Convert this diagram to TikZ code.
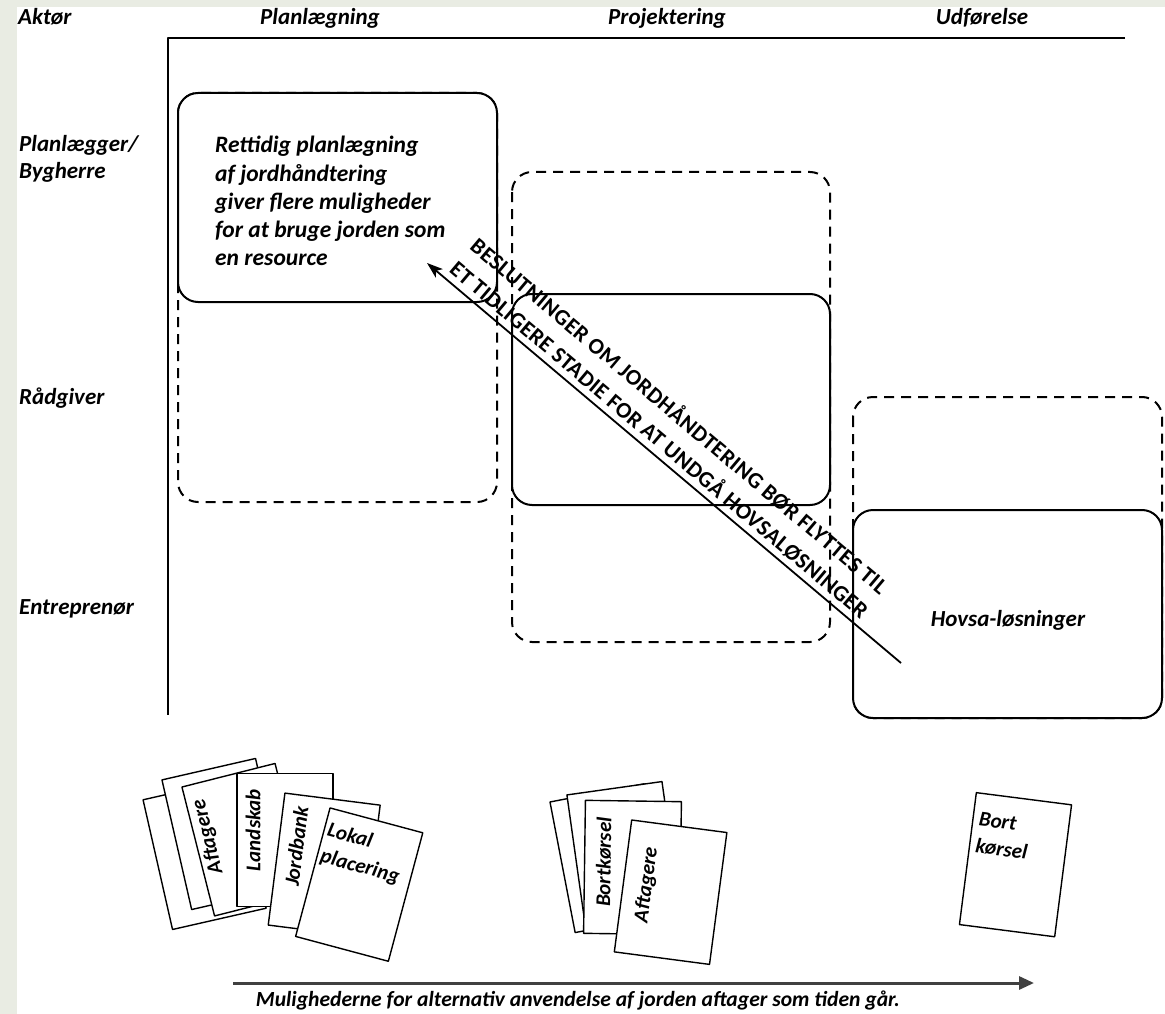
\documentclass[tikz,border=0pt]{standalone}
\usepackage{fontspec}
\setmainfont{Carlito}
\usetikzlibrary{arrows.meta}
\definecolor{bandgray}{RGB}{233,236,227}

\tikzset{
  lbl/.style={font=\bfseries\itshape\fontsize{23}{27}\selectfont, inner sep=0},
  cardtxt/.style={font=\bfseries\itshape\fontsize{21}{27}\selectfont, inner sep=0},
  card/.style={draw, fill=white, line width=1.4pt, minimum width=96pt, minimum height=133pt, inner sep=0},
}

\begin{document}
\begin{tikzpicture}[x=1pt, y=-1pt, line join=round,
  axis/.style={line width=2.4pt},
  fast/.style={line width=2pt, rounded corners=20pt, fill=white},
  loes/.style={line width=2pt, rounded corners=20pt, dash pattern=on 10pt off 7pt}]
\useasboundingbox (0,0) rectangle (1165,1014);
\fill[white] (0,0) rectangle (1165,1014);
\fill[bandgray] (0,0) rectangle (1165,7);
\fill[bandgray] (0,0) rectangle (17,1014);

% faser
\node[lbl, anchor=base west] (aktor) at (18,25) {Aktør};
\node[lbl, anchor=base] (planl) at (320,25) {Planlægning};
\node[lbl, anchor=base] (proj) at (667,25) {Projektering};
\node[lbl, anchor=base] (udf) at (982,25) {Udførelse};
\draw[axis] (1125,38) -- (168,38) -- (168,715);

% aktoerer
\node[lbl, anchor=west, align=left] (bygherre) at (19,159) {Planlægger/\\Bygherre};
\node[lbl, anchor=west] (raadgiver) at (19,398) {Rådgiver};
\node[lbl, anchor=west] (entrepr) at (19,609) {Entreprenør};

% kasser
\draw[loes] (178,93) rectangle (497,502);
\draw[fast] (178,93) rectangle (497,302);
\draw[loes] (512,172) rectangle (830,642);
\draw[fast] (512,294) rectangle (830,505);
\draw[loes] (853,397) rectangle (1162,718);
\draw[fast] (853,510) rectangle (1162,718);

\node[font=\bfseries\itshape\fontsize{23.5}{28.3}\selectfont, inner sep=0, anchor=north west, align=left] (rettidig) at (215,136)
  {Rettidig planlægning\\af jordhåndtering\\giver flere muligheder\\for at bruge jorden som\\en resource};
\node[lbl] (hovsa) at (1008,620) {Hovsa-løsninger};

% pil mod tidligere stadie
\coordinate (hale) at (901,663);
\coordinate (spids) at (427,263);
\draw[line width=1.8pt, -{Stealth[length=16pt,width=11pt,inset=4pt]}] (hale) -- (spids)
  node[pos=0.53, sloped, above=5pt, inner sep=0, align=center, font=\bfseries\fontsize{22.5}{31}\selectfont\addfontfeatures{LetterSpace=2}] (beslut)
  {BESLUTNINGER OM JORDHÅNDTERING BØR FLYTTES TIL\\ET TIDLIGERE STADIE FOR AT UNDGÅ HOVSALØSNINGER};

% kort, planlaegning
\begin{scope}[shift={(204.6,854)}, rotate=12.8, transform shape]
\node[card] (kA) {};
\end{scope}
\begin{scope}[shift={(223.6,834)}, rotate=12.9, transform shape]
\node[card] (kB) {};
\end{scope}
\begin{scope}[shift={(244.8,839.7)}, rotate=14.2, transform shape]
\node[card] (kC) {};
\node[cardtxt, rotate=90] (tC) at (-35,-12) {Aftagere};
\end{scope}
\begin{scope}[shift={(285,840)}]
\node[card] (kD) {};
\node[cardtxt, rotate=90] (tD) at (-32,-10) {Landskab};
\end{scope}
\begin{scope}[shift={(324.2,865.1)}, rotate=-7.2, transform shape]
\node[card] (kE) {};
\node[cardtxt, rotate=90] (tE) at (-30,-15) {Jordbank};
\end{scope}
\begin{scope}[shift={(359.2,884.6)}, rotate=-15, transform shape]
\node[card] (kF) {};
\node[cardtxt, anchor=north west, align=left] (tF) at (-44.5,-53.5) {Lokal\\placering};
\end{scope}

% kort, projektering
\begin{scope}[shift={(609.7,858.2)}, rotate=10.9, transform shape]
\node[card] (kG) {};
\end{scope}
\begin{scope}[shift={(623.7,854.1)}, rotate=8, transform shape]
\node[card] (kH) {};
\end{scope}
\begin{scope}[shift={(632.5,867.5)}, rotate=-0.8, transform shape]
\node[card] (kI) {};
\node[cardtxt, rotate=90] (tI) at (-29,-5) {Bortkørsel};
\end{scope}
\begin{scope}[shift={(670.6,892.2)}, rotate=-7.5, transform shape]
\node[card] (kJ) {};
\node[cardtxt, rotate=90] (tJ) at (-24.6,-4) {Aftagere};
\end{scope}

% kort, udfoerelse
\begin{scope}[shift={(1015.5,864.7)}, rotate=-7.3, transform shape]
\node[card] (kK) {};
\node[cardtxt, anchor=north west, align=left] (tK) at (-42,-47.5) {Bort\\kørsel};
\end{scope}

% tidsakse
\coordinate (tstart) at (233,983);
\coordinate (tslut) at (1034,983);
\draw[line width=3pt, black!75, -{Triangle[length=15pt,width=13pt]}] (tstart) -- (tslut);
\node[font=\bfseries\itshape\fontsize{21.6}{26}\selectfont, inner sep=0, anchor=base] (mulighed) at (578,1006) {Mulighederne for alternativ anvendelse af jorden aftager som tiden går.};
\end{tikzpicture}
\end{document}
